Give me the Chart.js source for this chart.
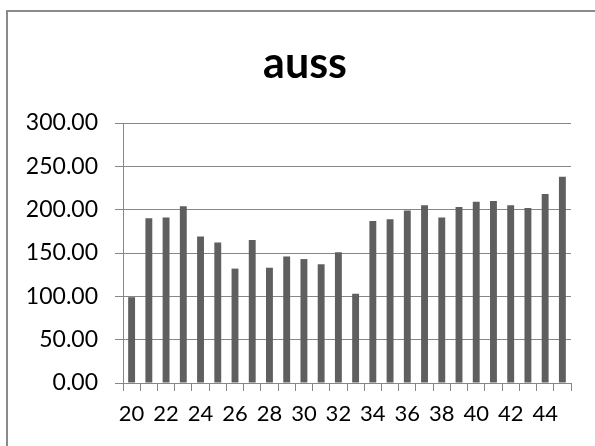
<!DOCTYPE html>
<html>
<head>
<meta charset="utf-8">
<script src="https://cdn.jsdelivr.net/npm/chart.js@4/dist/chart.umd.min.js"></script>
<style>
  html, body { margin: 0; padding: 0; overflow: hidden; background: #fff; }
  #wrap { position: relative; width: 595px; height: 446px; }
  #frame { position: absolute; left: 6px; top: 10px; width: 700px; height: 600px;
           border: 2px solid #8a8a8a; pointer-events: none; }
  canvas { position: absolute; left: 0; top: 0; }
</style>
</head>
<body>
<div id="wrap">
  <canvas id="myChart" width="595" height="446"></canvas>
  <div id="frame"></div>
</div>
<script>
// ages 20..45
const categorias = ['20','21','22','23','24','25','26','27','28','29','30','31','32',
                    '33','34','35','36','37','38','39','40','41','42','43','44','45'];
const valores = [99, 190, 191, 204, 169, 162, 132, 165, 133, 146, 143, 137, 151,
                 103, 187, 189, 199, 205, 191, 203, 209, 210, 205, 202, 218, 238];
const ticksY = [0, 50, 100, 150, 200, 250, 300];

const fonte = 'Lato, "Open Sans", sans-serif';
const cinza = '#878787';

// nudges the title box so the title sits a bit right of the canvas centre
const deslocaTitulo = {
  id: 'deslocaTitulo',
  afterLayout: function (chart) {
    if (chart.titleBlock) chart.titleBlock.left += 39;
  }
};

var ctx = document.getElementById('myChart').getContext('2d');
var myChart = new Chart(ctx, {
  type: 'bar',
  data: {
    labels: categorias,
    datasets: [{
      label: 'auss',
      data: valores,
      backgroundColor: '#5f5f5f',
      barPercentage: 0.4,
      categoryPercentage: 1
    }]
  },
  options: {
    responsive: false,
    animation: false,
    layout: { padding: { left: 0, right: 24, top: 0, bottom: 0 } },
    plugins: {
      legend: { display: false },
      tooltip: { enabled: false },
      title: {
        display: true,
        text: 'auss',
        color: '#000',
        font: { family: fonte, size: 43, weight: 'bold', lineHeight: 1 },
        padding: { top: 43, bottom: 37 }
      }
    },
    scales: {
      x: {
        offset: true,
        grid: { offset: true, drawOnChartArea: false, color: cinza, tickLength: 8 },
        border: { color: cinza },
        ticks: {
          autoSkip: false,
          maxRotation: 0,
          color: '#000',
          padding: 10,
          font: { family: fonte, size: 22 },
          // only every other age gets a label
          callback: function (v, i) { return i % 2 === 0 ? categorias[i] : ''; }
        },
        afterFit: function (s) { s.height = 63; }
      },
      y: {
        min: ticksY[0],
        max: ticksY[ticksY.length - 1],
        afterBuildTicks: function (s) { s.ticks = ticksY.map(v => ({ value: v })); },
        grid: { color: cinza, tickLength: 8 },
        border: { color: cinza },
        ticks: {
          color: '#000',
          padding: 17,
          font: { family: fonte, size: 23 },
          callback: function (v) { return Number(v).toFixed(2); }
        },
        afterFit: function (s) { s.width = 123; }
      }
    }
  },
  plugins: [deslocaTitulo]
});
</script>
</body>
</html>
